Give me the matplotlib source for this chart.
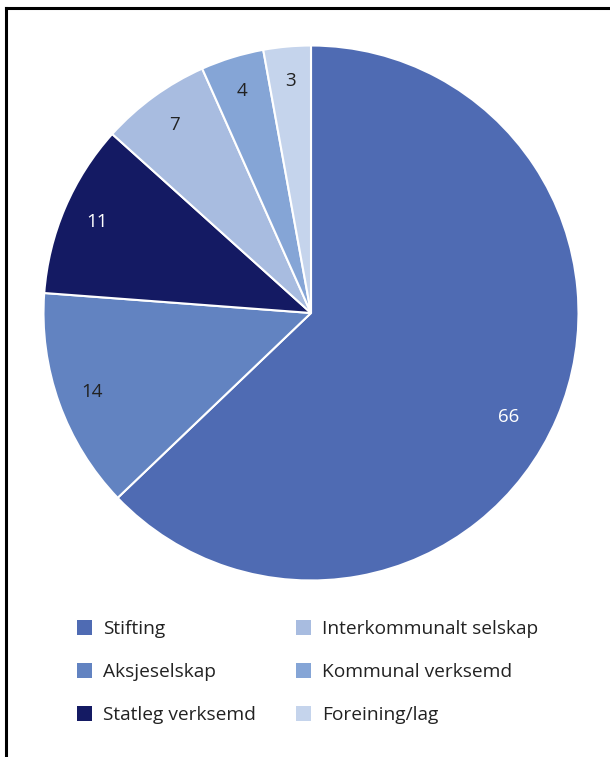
import matplotlib.pyplot as plt
from matplotlib.lines import Line2D
from matplotlib.patches import Patch

plt.rcParams['font.family'] = ['Open Sans', 'DejaVu Sans']

labels = ['Stifting', 'Aksjeselskap', 'Statleg verksemd',
          'Interkommunalt selskap', 'Kommunal verksemd', 'Foreining/lag']
values = [66, 14, 11, 7, 4, 3]
colors = ['#4f6bb3', '#6283c1', '#141a63', '#a8bce0', '#85a5d6', '#c5d4ec']
text_colors = ['white', '#222222', 'white', '#222222', '#222222', '#222222']

W, H = 610, 757
fig = plt.figure(figsize=(W / 100, H / 100), dpi=100)

# pie centre (311, 313) px, radius ~267 px
cx, cy, r = 311, 313, 267.5
ax = fig.add_axes([(cx - r) / W, (H - cy - r) / H, 2 * r / W, 2 * r / H])

wedges, texts = ax.pie(values, colors=colors, startangle=90, counterclock=False,
                       labels=[str(v) for v in values], labeldistance=0.87,
                       wedgeprops=dict(edgecolor='white', linewidth=1.5),
                       textprops=dict(fontsize=13.5))
for t, c in zip(texts, text_colors):
    t.set_color(c)
    t.set_ha('center')
    t.set_va('center')
# big slice label sits a bit lower/inward in the original
texts[0].set_position((0.74, -0.39))
ax.set_xlim(-1, 1)
ax.set_ylim(-1, 1)
ax.set_aspect('equal')

handles = [Patch(facecolor=c, edgecolor='none') for c in colors]
fig.legend(handles, labels, loc='upper left', ncol=2,
           bbox_to_anchor=(77 / W, 1 - 620 / H), frameon=False,
           borderpad=0, borderaxespad=0, fontsize=13.8,
           handlelength=0.8, handleheight=0.8, handletextpad=0.55,
           labelspacing=1.3, columnspacing=2.1, labelcolor='#222222')

# frame lines (top and left only)
fig.add_artist(Line2D([6 / W, 1], [1 - 8 / H, 1 - 8 / H],
                      transform=fig.transFigure, color='black', lw=2.2))
fig.add_artist(Line2D([6 / W, 6 / W], [0, 1 - 8 / H],
                      transform=fig.transFigure, color='black', lw=2.2))

fig.savefig('out.png', dpi=100)
